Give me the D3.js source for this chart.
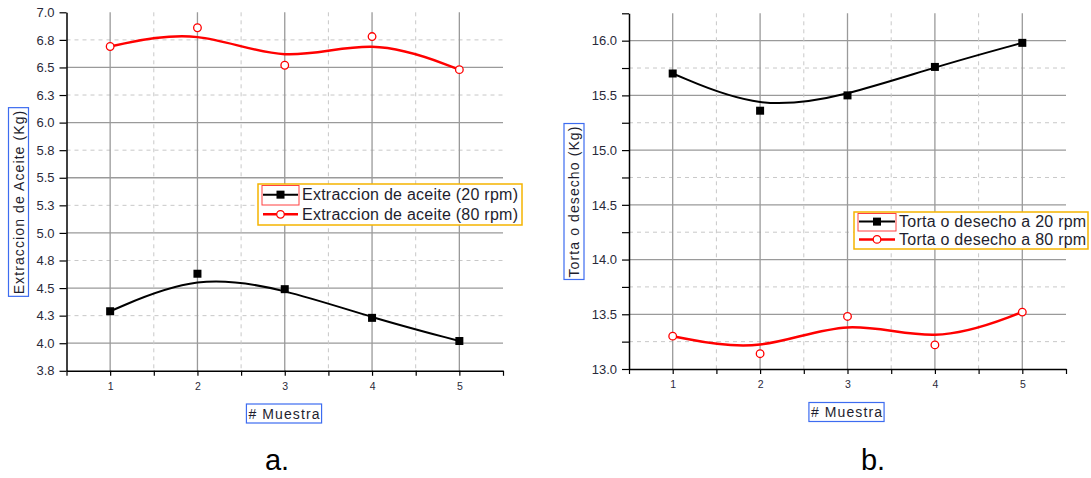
<!DOCTYPE html>
<html><head><meta charset="utf-8">
<script src="https://cdn.jsdelivr.net/npm/d3@7"></script>
<style>
html,body{margin:0;padding:0;background:#fff;}
svg{display:block;font-family:Arial,"Liberation Sans",sans-serif;}
</style></head>
<body><svg id="chart" width="1091" height="478"></svg>
<script>
// ---- data ----
const samples = [1, 2, 3, 4, 5];
const oil20 = [4.29, 4.63, 4.49, 4.23, 4.02];
const oil80 = [6.69, 6.86, 6.52, 6.78, 6.48];
const cake20 = [15.70, 15.36, 15.50, 15.76, 15.98];
const cake80 = [13.30, 13.14, 13.48, 13.22, 13.52];
const oilTickValues = [3.75, 4.0, 4.25, 4.5, 4.75, 5.0, 5.25, 5.5, 5.75, 6.0, 6.25, 6.5, 6.75, 7.0];
const oilTickLabels = ["3.8", "4.0", "4.3", "4.5", "4.8", "5.0", "5.3", "5.5", "5.8", "6.0", "6.3", "6.5", "6.8", "7.0"];
const cakeTickValues = [13.0, 13.25, 13.5, 13.75, 14.0, 14.25, 14.5, 14.75, 15.0, 15.25, 15.5, 15.75, 16.0, 16.25];
const cakeTickLabels = ["13.0", "", "13.5", "", "14.0", "", "14.5", "", "15.0", "", "15.5", "", "16.0", ""];
const xTickValues = [0.5, 1, 1.5, 2, 2.5, 3, 3.5, 4, 4.5, 5, 5.5];
const xLabel = "# Muestra";
const oilYLabel = "Extraccion de Aceite (Kg)";
const cakeYLabel = "Torta o desecho (Kg)";
const oilLegend = ["Extraccion de aceite (20 rpm)", "Extraccion de aceite (80 rpm)"];
const cakeLegend = ["Torta o desecho a 20 rpm", "Torta o desecho a 80 rpm"];
const panelLetters = ["a.", "b."];

const svg = d3.select("#chart");

function isHalf(d) { return Math.abs(d * 2 - Math.round(d * 2)) < 1e-9; }

function panel(cfg) {
  const g = svg.append("g");
  const x = d3.scaleLinear().domain([0.5, 5.5]).range([cfg.x0, cfg.x1]);
  const y = d3.scaleLinear().domain(cfg.yDomain).range([cfg.yBottom, cfg.yTop]);

  // grid: horizontal
  const hVals = cfg.yTicks.filter(v => v > cfg.yDomain[0] + 1e-9 && v < cfg.yDomain[1] - 1e-9);
  g.selectAll(".hg").data(hVals).enter().append("line")
    .attr("x1", cfg.x0).attr("x2", cfg.x1)
    .attr("y1", d => y(d)).attr("y2", d => y(d))
    .attr("stroke", d => isHalf(d) ? "#9a9a9a" : "#c8c8c8")
    .attr("stroke-width", d => isHalf(d) ? 1.3 : 1)
    .attr("stroke-dasharray", d => isHalf(d) ? null : "4,4");
  // grid: vertical
  const vVals = xTickValues.filter(v => v > 0.5 && v < 5.5);
  g.selectAll(".vg").data(vVals).enter().append("line")
    .attr("x1", d => x(d)).attr("x2", d => x(d))
    .attr("y1", cfg.yTop).attr("y2", cfg.yBottom)
    .attr("stroke", d => Number.isInteger(d) ? "#9a9a9a" : "#c8c8c8")
    .attr("stroke-width", d => Number.isInteger(d) ? 1.3 : 1)
    .attr("stroke-dasharray", d => Number.isInteger(d) ? null : "4,4");

  // axes
  const yAxis = d3.axisLeft(y).tickValues(cfg.yTicks)
    .tickFormat((d, i) => cfg.yLabels[i]).tickSize(7).tickPadding(5).tickSizeOuter(0);
  const ya = g.append("g").attr("transform", `translate(${cfg.x0},0)`).call(yAxis);
  ya.select(".domain").attr("stroke", "#000").attr("stroke-width", 1.5);
  ya.selectAll(".tick line").attr("stroke", "#000").attr("stroke-width", 1.2);
  ya.selectAll(".tick text").attr("font-size", 13).attr("fill", "#2a2a3a")
    .attr("font-family", "Arial, 'Liberation Sans', sans-serif");

  const xAxis = d3.axisBottom(x).tickValues(xTickValues)
    .tickFormat(d => Number.isInteger(d) && d >= 1 && d <= 5 ? String(d) : "")
    .tickSize(5).tickPadding(7).tickSizeOuter(0);
  const xa = g.append("g").attr("transform", `translate(0,${cfg.yBottom})`).call(xAxis);
  xa.select(".domain").attr("stroke", "#000").attr("stroke-width", 1.5);
  xa.selectAll(".tick line").attr("stroke", "#000").attr("stroke-width", 1.2);
  xa.selectAll(".tick text").attr("font-size", 10.5).attr("fill", "#2a2a3a")
    .attr("font-family", "Arial, 'Liberation Sans', sans-serif");

  // curves
  const line = d3.line().x((d, i) => x(samples[i])).y(d => y(d)).curve(d3.curveBasis);
  g.append("path").datum(cfg.s20).attr("d", line).attr("fill", "none")
    .attr("stroke", "#000").attr("stroke-width", 2);
  g.append("path").datum(cfg.s80).attr("d", line).attr("fill", "none")
    .attr("stroke", "#ff0000").attr("stroke-width", 2.5);

  // markers
  g.selectAll(".sq").data(cfg.s20).enter().append("rect")
    .attr("x", (d, i) => x(samples[i]) - 4).attr("y", d => y(d) - 4)
    .attr("width", 8).attr("height", 8).attr("fill", "#000");
  g.selectAll(".ci").data(cfg.s80).enter().append("circle")
    .attr("cx", (d, i) => x(samples[i])).attr("cy", d => y(d)).attr("r", 3.8)
    .attr("fill", "#fff").attr("stroke", "#ff0000").attr("stroke-width", 1.3);

  // axis titles
  const xt = g.append("text").attr("x", cfg.xTitleX).attr("y", cfg.xTitleY)
    .attr("text-anchor", "middle").attr("dominant-baseline", "central")
    .attr("font-size", 14).attr("letter-spacing", 1.1).attr("fill", "#1e1e2e").text(xLabel);
  const xw = xt.node().getComputedTextLength();
  g.append("rect").attr("x", cfg.xTitleX - xw / 2 - 2).attr("y", cfg.xTitleY - 9.5)
    .attr("width", xw + 3).attr("height", 19)
    .attr("fill", "none").attr("stroke", "#3d6cf0").attr("stroke-width", 1.2);

  const yt = g.append("text")
    .attr("transform", `translate(${cfg.yTitleX},${cfg.yTitleY}) rotate(-90)`)
    .attr("text-anchor", "middle").attr("dominant-baseline", "central")
    .attr("font-size", 14).attr("letter-spacing", 1.1).attr("fill", "#1e1e2e").text(cfg.yTitle);
  const yw = yt.node().getComputedTextLength();
  g.append("rect").attr("x", cfg.yTitleX - 10).attr("y", cfg.yTitleY - yw / 2 - 2)
    .attr("width", 20).attr("height", yw + 4)
    .attr("fill", "none").attr("stroke", "#3d6cf0").attr("stroke-width", 1.2);

  // legend
  const L = cfg.legend;
  g.append("rect").attr("x", L.x).attr("y", L.y).attr("width", L.w).attr("height", L.h)
    .attr("fill", "#fff").attr("stroke", "#f5b400").attr("stroke-width", 1.5);
  g.append("rect").attr("x", L.x + 4).attr("y", L.y + 1.5).attr("width", L.sw + 2).attr("height", L.h / 2 - 1)
    .attr("fill", "none").attr("stroke", "#ff4040").attr("stroke-width", 1);
  const rows = [L.y + L.h * 0.26, L.y + L.h * 0.74];
  const sx0 = L.x + 5, sx1 = L.x + 5 + L.sw, sxm = (sx0 + sx1) / 2;
  g.append("line").attr("x1", sx0).attr("x2", sx1).attr("y1", rows[0]).attr("y2", rows[0])
    .attr("stroke", "#000").attr("stroke-width", 2);
  g.append("rect").attr("x", sxm - 4).attr("y", rows[0] - 4).attr("width", 8).attr("height", 8).attr("fill", "#000");
  g.append("line").attr("x1", sx0).attr("x2", sx1).attr("y1", rows[1]).attr("y2", rows[1])
    .attr("stroke", "#ff0000").attr("stroke-width", 2.5);
  g.append("circle").attr("cx", sxm).attr("cy", rows[1]).attr("r", 3.8)
    .attr("fill", "#fff").attr("stroke", "#ff0000").attr("stroke-width", 1.3);
  cfg.legendText.forEach((t, i) => {
    g.append("text").attr("x", sx1 + 4).attr("y", rows[i]).attr("dominant-baseline", "central")
      .attr("font-size", L.fs).attr("letter-spacing", 0.25).attr("fill", "#1e1e2e").text(t);
  });

  // panel letter
  g.append("text").attr("x", cfg.letterX).attr("y", 470).attr("text-anchor", "middle")
    .attr("font-size", 29).attr("fill", "#000").text(cfg.letter);
}

panel({
  x0: 66.5, x1: 503, yTop: 12.3, yBottom: 370.8, yDomain: [3.75, 7.0],
  yTicks: oilTickValues, yLabels: oilTickLabels,
  s20: oil20, s80: oil80,
  xTitleX: 284.5, xTitleY: 413.5, yTitleX: 18.5, yTitleY: 202, yTitle: oilYLabel,
  legend: { x: 258, y: 184, w: 264, h: 41, sw: 35, fs: 16 },
  legendText: oilLegend, letter: panelLetters[0], letterX: 277
});
panel({
  x0: 629, x1: 1066, yTop: 13.3, yBottom: 369, yDomain: [13.0, 16.25],
  yTicks: cakeTickValues, yLabels: cakeTickLabels,
  s20: cake20, s80: cake80,
  xTitleX: 847, xTitleY: 412, yTitleX: 574, yTitleY: 201.5, yTitle: cakeYLabel,
  legend: { x: 854, y: 212, w: 234, h: 37, sw: 36, fs: 16 },
  legendText: cakeLegend, letter: panelLetters[1], letterX: 873
});
</script></body></html>
